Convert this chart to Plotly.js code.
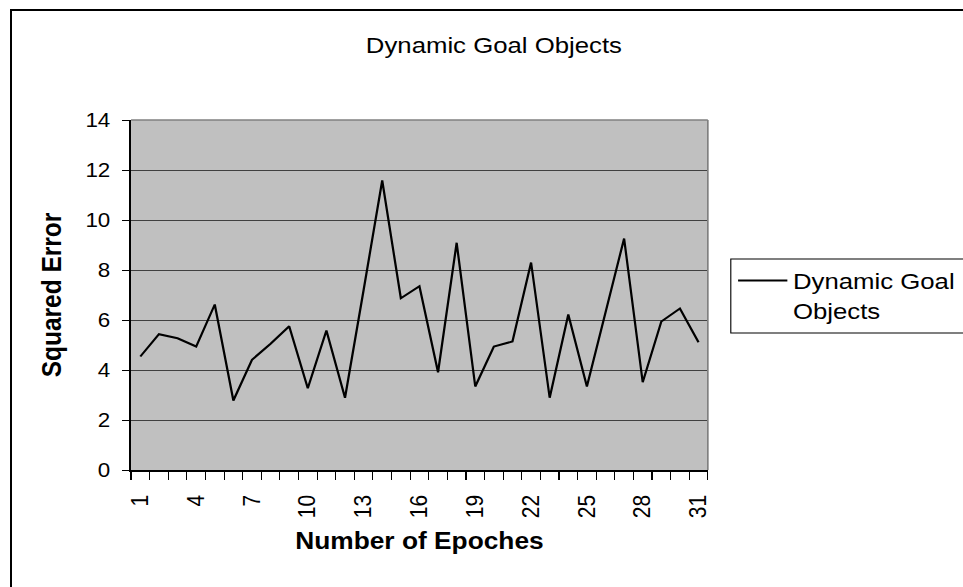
<!DOCTYPE html>
<html>
<head>
<meta charset="utf-8">
<script src="https://cdn.plot.ly/plotly-3.0.1.min.js"></script>
<style>
  html, body { margin: 0; padding: 0; background: #ffffff; overflow: hidden; width: 963px; height: 587px; }
  #stage { position: relative; width: 963px; height: 587px; overflow: hidden; }
  /* chart is laid out on a narrower canvas and stretched horizontally */
  #chart { position: absolute; left: 0; top: 0; width: 860px; height: 587px;
           transform: scaleX(1.12); transform-origin: 0 0; }
  #frame { position: absolute; left: 10px; top: 9px; width: 1000px; height: 1000px;
           border: 2px solid #000; pointer-events: none; }
</style>
</head>
<body>
<div id="stage">
  <div id="chart"></div>
  <div id="frame"></div>
</div>
<script>
// Squared error per training epoch
const epochs = [1, 2, 3, 4, 5, 6, 7, 8, 9, 10, 11, 12, 13, 14, 15, 16,
                17, 18, 19, 20, 21, 22, 23, 24, 25, 26, 27, 28, 29, 30, 31];
const squaredError = [4.54, 5.43, 5.27, 4.94, 6.62, 2.78, 4.41, 5.05, 5.75, 3.27, 5.58,
                      2.89, 7.20, 11.58, 6.87, 7.35, 3.91, 9.09, 3.34, 4.94, 5.14, 8.30,
                      2.89, 6.22, 3.34, 6.30, 9.26, 3.51, 5.94, 6.46, 5.11];
const xTickVals = [1, 4, 7, 10, 13, 16, 19, 22, 25, 28, 31];
const xTickText = ['1', '4', '7', '10', '13', '16', '19', '22', '25', '28', '31'];
const yTickVals = [0, 2, 4, 6, 8, 10, 12, 14];
const yTickText = ['0', '2', '4', '6', '8', '10', '12', '14'];
const seriesName = 'Dynamic Goal<br>Objects';

const W = 860, H = 587;
const M = { l: 117, r: 228, t: 120, b: 117 };
const PW = W - M.l - M.r, PH = H - M.t - M.b;
const FONT = 'Liberation Sans, Arial, Helvetica, sans-serif';

// pixel -> paper helpers for the legend frame
const px = x => (x - M.l) / PW;
const py = y => (H - M.b - y) / PH;

const trace = {
  x: epochs,
  y: squaredError,
  type: 'scatter',
  mode: 'lines',
  name: seriesName,
  line: { color: '#000000', width: 2 },
  hoverinfo: 'x+y'
};

const layout = {
  width: W,
  height: H,
  margin: M,
  paper_bgcolor: '#ffffff',
  plot_bgcolor: '#c0c0c0',
  font: { family: FONT, color: '#000000' },
  title: {
    text: 'Dynamic Goal Objects',
    font: { size: 23, family: FONT, color: '#000000' },
    xref: 'container', yref: 'container',
    x: 441 / W, y: 1 - 45 / H, xanchor: 'center', yanchor: 'middle'
  },
  xaxis: {
    type: 'linear',
    range: [0.5, 31.5],
    tickmode: 'array',
    tickvals: xTickVals,
    ticktext: xTickText,
    tickangle: -90,
    ticks: '',
    ticklabelstandoff: 15,
    tickfont: { size: 21, family: FONT },
    minor: { tickmode: 'linear', tick0: 0.5, dtick: 1, ticks: 'outside', ticklen: 8,
             tickwidth: 1, tickcolor: '#000000', showgrid: false },
    showgrid: false,
    zeroline: false,
    showline: true,
    linecolor: '#000000',
    linewidth: 1.5,
    automargin: false,
    fixedrange: true,
    title: { text: 'Number of Epoches', standoff: 15,
             font: { size: 23.5, family: FONT, weight: 'bold', color: '#000000' } }
  },
  yaxis: {
    range: [0, 14],
    tickmode: 'array',
    tickvals: yTickVals,
    ticktext: yTickText,
    ticks: 'outside',
    ticklen: 7,
    tickwidth: 1,
    tickcolor: '#000000',
    ticklabelstandoff: 6,
    tickfont: { size: 20, family: FONT },
    showgrid: true,
    gridcolor: '#404040',
    gridwidth: 1,
    zeroline: false,
    showline: true,
    linecolor: '#000000',
    linewidth: 1.5,
    automargin: false,
    fixedrange: true,
    title: { text: 'Squared Error', standoff: 14,
             font: { size: 24.5, family: FONT, weight: 'bold', color: '#000000' } }
  },
  showlegend: true,
  legend: {
    xref: 'container', yref: 'container',
    x: 654 / W, y: 1 - 259 / H,
    xanchor: 'left', yanchor: 'top',
    valign: 'top',
    bgcolor: 'rgba(0,0,0,0)',
    borderwidth: 0,
    itemwidth: 44,
    font: { size: 23, family: FONT, color: '#000000' }
  },
  shapes: [
    // plot area frame on the top and right sides
    { type: 'line', xref: 'paper', yref: 'paper', x0: 0, x1: 1, y0: 1, y1: 1,
      line: { color: '#808080', width: 1.5 } },
    { type: 'line', xref: 'paper', yref: 'paper', x0: 1, x1: 1, y0: 0, y1: 1,
      line: { color: '#808080', width: 1.5 } },
    // legend box
    { type: 'rect', xref: 'paper', yref: 'paper',
      x0: px(652.5), x1: px(900), y0: py(333), y1: py(259),
      line: { color: '#000000', width: 1 }, fillcolor: 'rgba(0,0,0,0)' }
  ]
};

Plotly.newPlot('chart', [trace], layout, { staticPlot: true, displayModeBar: false });
</script>
</body>
</html>
